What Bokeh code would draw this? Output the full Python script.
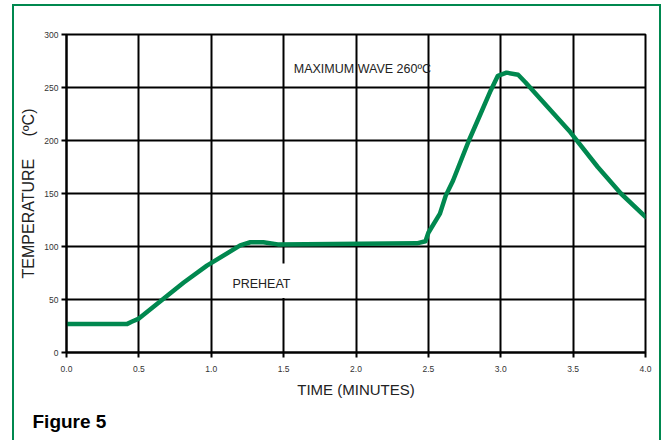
from bokeh.plotting import figure
from bokeh.models import Range1d, FixedTicker, Label, BoxAnnotation, InlineStyleSheet, Title
from bokeh.embed import file_html
from bokeh.resources import INLINE

time_min = [0.0, 0.42, 0.45, 0.50, 0.70, 0.81, 0.97, 1.20, 1.27, 1.36, 1.46, 2.42,
            2.48, 2.50, 2.58, 2.62, 2.67, 2.78, 2.86, 2.93, 2.98, 3.04, 3.12, 3.17,
            3.48, 3.67, 3.83, 4.0]
temp_c = [27, 27, 29, 32, 54, 66, 82, 101, 104, 104, 102, 103,
          105, 113, 131, 148, 162, 200, 225, 247, 261, 264, 262, 255,
          208, 175, 150, 128]
x_ticks = [0.0, 0.5, 1.0, 1.5, 2.0, 2.5, 3.0, 3.5, 4.0]
y_ticks = [0, 50, 100, 150, 200, 250, 300]

GREEN = "#00884f"
FONT = "Liberation Sans"

frame_css = InlineStyleSheet(css="""
:host { position: relative; }
:host::after {
  content: ''; position: absolute; left: 12px; top: 4px; width: 645px; height: 434px;
  border-left: 2.5px solid #00884f; border-top: 2.5px solid #00884f;
  border-right: 2.5px solid #00884f; pointer-events: none; z-index: 10;
}
""")

p = figure(width=663, height=440, output_backend="svg", toolbar_location=None,
           x_range=Range1d(0, 4), y_range=Range1d(0, 300),
           min_border_left=66, min_border_right=18, min_border_top=34, min_border_bottom=88)
p.stylesheets = [frame_css]
p.outline_line_color = "black"
p.outline_line_width = 2

for ax, ticks in ((p.xaxis[0], x_ticks), (p.yaxis[0], y_ticks)):
    ax.ticker = FixedTicker(ticks=ticks)
    ax.axis_line_color = "black"
    ax.axis_line_width = 2
    ax.major_tick_line_color = "black"
    ax.major_tick_line_width = 2
    ax.major_tick_out = 5
    ax.major_tick_in = 0
    ax.minor_tick_line_color = None
    ax.major_label_text_font = FONT
    ax.major_label_text_font_size = "8.5px"
    ax.major_label_text_color = "#333333"
    ax.axis_label_text_font = FONT
    ax.axis_label_text_font_style = "normal"
    ax.axis_label_text_color = "#222222"

p.xaxis[0].major_label_overrides = {t: f"{t:.1f}" for t in x_ticks}
p.xaxis[0].major_label_standoff = 8
p.xaxis[0].axis_label = "TIME (MINUTES)"
p.xaxis[0].axis_label_text_font_size = "15px"
p.xaxis[0].axis_label_standoff = 6
p.yaxis[0].major_label_standoff = 3
p.yaxis[0].axis_label = "TEMPERATURE\u00a0\u00a0\u00a0\u00a0\u00a0(ºC)"
p.yaxis[0].axis_label_text_font_size = "16px"
p.yaxis[0].axis_label_standoff = 4

p.xgrid.ticker = FixedTicker(ticks=x_ticks)
p.ygrid.ticker = FixedTicker(ticks=y_ticks)
for g in (p.xgrid[0], p.ygrid[0]):
    g.grid_line_color = "black"
    g.grid_line_width = 2
    g.grid_line_alpha = 1.0

p.line(time_min, temp_c, line_color=GREEN, line_width=4.5, line_join="round", line_cap="round")

p.add_layout(Label(x=1.57, y=267, text="MAXIMUM WAVE 260ºC", text_font=FONT,
                   text_font_size="12.5px", text_color="#222222", text_baseline="middle"))
p.add_layout(BoxAnnotation(left=1.08, right=1.62, bottom=51.5, top=84,
                           fill_color="white", fill_alpha=1.0, line_color=None))
p.add_layout(Label(x=1.146, y=65, text="PREHEAT", text_font=FONT,
                   text_font_size="12.5px", text_color="#222222", text_baseline="middle"))

p.add_layout(Title(text="Figure 5", align="left", offset=-34, standoff=17,
                   text_font=FONT, text_font_size="19px", text_font_style="bold",
                   text_color="black"), "below")

open("out.html", "w").write(file_html(p, INLINE))
